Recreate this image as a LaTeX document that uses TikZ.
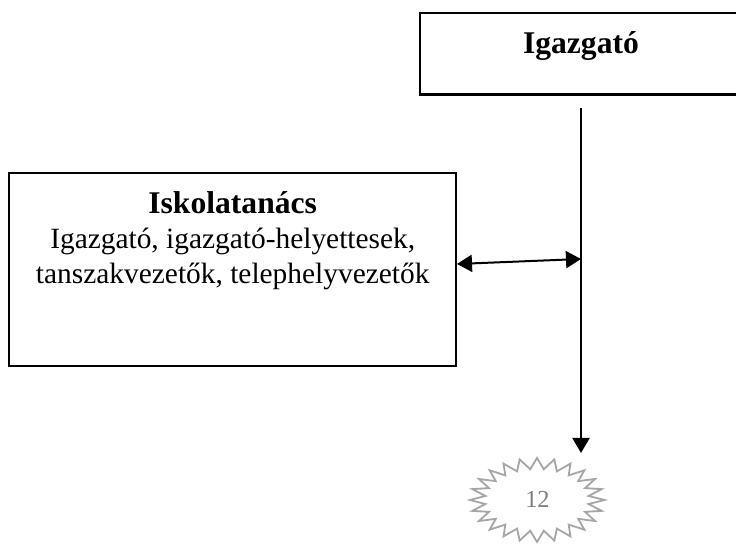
\documentclass[tikz,border=0pt]{standalone}
\usepackage{fontspec}
\setmainfont{Liberation Serif}
\usetikzlibrary{arrows.meta}
\definecolor{stargray}{HTML}{A6A6A6}
\definecolor{numgray}{HTML}{7F7F7F}
\begin{document}
\begin{tikzpicture}[x=0.5pt,y=-0.5pt,
  >={Triangle[length=7.5pt,width=8.5pt]},
  topbox/.style={draw,line width=1.3pt,minimum width=161pt,minimum height=40.75pt,inner sep=0pt,
    font=\fontsize{15.8}{19}\selectfont\bfseries,text height=11pt,text depth=11pt},
  councilbox/.style={draw,line width=1pt,minimum width=223.3pt,minimum height=96.5pt,inner sep=0pt},
  counciltext/.style={align=center,inner sep=0pt,font=\fontsize{14.7}{17.5}\selectfont},
  conn/.style={line width=1pt},
  starline/.style={draw=stargray,line width=0.9pt,line join=miter},
]
\useasboundingbox (0,0) rectangle (736,544);
\fill[white] (0,0) rectangle (736,544);

% boxes
\node[topbox] (igaz) at (581,53.75) {Igazgató};
\node[councilbox] (isk) at (232.7,269.5) {};
\node[counciltext,anchor=north] (iskt) at ([yshift=-9.5pt]isk.north)
  {{\fontsize{15.8}{17.5}\selectfont\bfseries Iskolatanács}\\
   Igazgató, igazgató-helyettesek,\\
   tanszakvezetők, telephelyvezetők};

% connectors
\coordinate (vtop) at ([yshift=-6.25pt]igaz.south);
\coordinate (vend) at (581,453);
\coordinate (hl) at (0,264);
\coordinate (hr) at (581,259);
\draw[conn,->] (vtop) -- (vend);
\draw[conn,<->] (isk.east |- hl) -- (hr);

% page number starburst
\draw[starline] (604.5,500)
  \foreach \k in {1,...,47} { -- ({537+(59.5+7.5*cos(\k*180))*cos(\k*7.5)}, {500+(36.5+5.5*cos(\k*180))*sin(\k*7.5)}) } -- cycle;
\node[text=numgray,font=\fontsize{12.2}{14}\selectfont,inner sep=0pt] (pg) at (537.5,499) {12};
\end{tikzpicture}
\end{document}
